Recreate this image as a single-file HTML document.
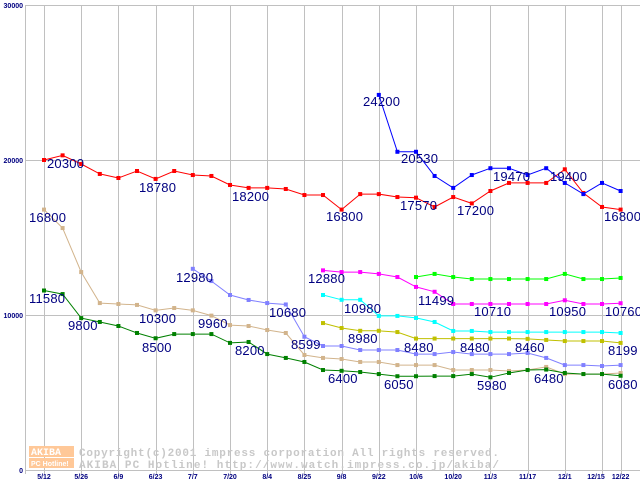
<!DOCTYPE html>
<html><head><meta charset="utf-8"><style>
body{margin:0;background:#fff;}
svg{display:block;}
.lbl{font-family:"Liberation Sans",sans-serif;font-size:13px;fill:#000080;letter-spacing:0.2px;}
.ax{font-family:"Liberation Sans",sans-serif;font-size:7px;font-weight:bold;fill:#000080;}
.wm{font-family:"Liberation Mono",monospace;font-size:11px;font-weight:bold;fill:#c8c8c8;}
</style></head><body>
<svg id="chart" width="640" height="480" viewBox="0 0 640 480" xmlns="http://www.w3.org/2000/svg">
<g id="grid"></g>
<g id="watermark">
  <rect x="29" y="446" width="45" height="11" fill="#ffc898"/>
  <rect x="29" y="458" width="45" height="10" fill="#ffc898"/>
  <text x="31" y="455" font-family="Liberation Mono,monospace" font-size="10" font-weight="bold" fill="#fff">AKIBA</text>
  <text x="31" y="466" font-family="Liberation Sans,sans-serif" font-size="7" font-weight="bold" fill="#fff">PC Hotline!</text>
  <text class="wm" x="79" y="456" textLength="420">Copyright(c)2001 impress corporation All rights reserved.</text>
  <text class="wm" x="79" y="468" textLength="420">AKIBA PC Hotline!  http://www.watch.impress.co.jp/akiba/</text>
</g>
<g id="series"></g>
<g id="labels"></g>
</svg>
<script>
const yTicks = [0, 10000, 20000, 30000];
const xTickLabels = ["5/12","5/26","6/9","6/23","7/7","7/20","8/4","8/25","9/8","9/22","10/6","10/20","11/3","11/17","12/1","12/15","12/22"];
const xTickIndex = [0,2,4,6,8,10,12,14,16,18,20,22,24,26,28,30,31];
const N = 32;
const _ = null;
const redValues = [20000,20300,19740,19100,18840,19290,18780,19290,19030,18970,18390,18200,18200,18130,17740,17740,16800,17800,17800,17610,17570,16970,17610,17200,18000,18520,18520,18520,19400,17870,16970,16800];
const blueValues = [_,_,_,_,_,_,_,_,_,_,_,_,_,_,_,_,_,_,24200,20530,20530,18970,18200,19030,19470,19470,19030,19470,18520,17800,18520,18000];
const tanValues = [16800,15610,12770,10770,10710,10650,10300,10450,10300,9960,9350,9290,9030,8840,7420,7230,7160,6970,6970,6770,6770,6770,6450,6450,6450,6390,6450,6650,6190,6190,6190,6260];
const greenValues = [11580,11350,9800,9550,9290,8840,8500,8770,8770,8770,8200,8260,7480,7230,6970,6450,6400,6320,6190,6050,6050,6060,6060,6190,5980,6260,6450,6480,6260,6190,6190,6080];
const periwinkleValues = [_,_,_,_,_,_,_,_,12980,12190,11290,10970,10770,10680,8599,8000,8000,7740,7740,7740,7480,7480,7610,7480,7480,7480,7550,7230,6770,6770,6710,6770];
const magentaValues = [_,_,_,_,_,_,_,_,_,_,_,_,_,_,_,12880,12770,12770,12650,12450,11810,11499,10710,10710,10710,10710,10710,10710,10950,10710,10710,10760];
const limeValues = [_,_,_,_,_,_,_,_,_,_,_,_,_,_,_,_,_,_,_,_,12450,12650,12450,12320,12320,12320,12320,12320,12650,12320,12320,12390];
const cyanValues = [_,_,_,_,_,_,_,_,_,_,_,_,_,_,_,11290,10980,10980,9940,9940,9810,9550,8970,8970,8900,8900,8900,8900,8900,8900,8900,8840];
const oliveValues = [_,_,_,_,_,_,_,_,_,_,_,_,_,_,_,9480,9160,8980,8980,8900,8480,8480,8480,8480,8480,8480,8460,8390,8320,8320,8320,8199];
const labelTexts = ["20300","18780","18200","16800","17570","17200","16800","24200","20530","19470","19400","16800","11580","9800","10300","8500","9960","8200","12980","10680","8599","12880","10980","11499","10710","10950","10760","8980","8480","8480","8460","8199","6400","6050","5980","6480","6080"];

const x = i => 44 + 18.6 * i;
const y = v => 470 - v * 0.0155;
const NS = "http://www.w3.org/2000/svg";
function mk(tag, parent){ const e = document.createElementNS(NS, tag); parent.appendChild(e); return e; }

const grid = document.getElementById('grid');
yTicks.forEach(t => {
  const l = mk('line', grid);
  
  
  l.setAttribute('x1', 25); l.setAttribute('x2', 640);
  l.setAttribute('y1', y(t) + 0.5); l.setAttribute('y2', y(t) + 0.5);
  l.setAttribute('stroke', '#c0c0c0');
  const tx = mk('text', grid);
  
  
  tx.setAttribute('class', 'ax');
  tx.setAttribute('x', 23); tx.setAttribute('y', y(t) + 3);
  tx.setAttribute('text-anchor', 'end');
  tx.textContent = t;
});
const axl = mk('line', grid);


axl.setAttribute('x1', 25.5); axl.setAttribute('x2', 25.5);
axl.setAttribute('y1', y(30000)); axl.setAttribute('y2', 474);
axl.setAttribute('stroke', '#c0c0c0');
xTickIndex.forEach((ix, k) => {
  const l = mk('line', grid);
  
  
  const xx = Math.round(x(ix)) + 0.5;
  l.setAttribute('x1', xx); l.setAttribute('x2', xx);
  l.setAttribute('y1', y(30000)); l.setAttribute('y2', 474);
  l.setAttribute('stroke', '#c0c0c0');
  const tx = mk('text', grid);
  
  
  tx.setAttribute('class', 'ax');
  tx.setAttribute('font-weight', 'normal');
  tx.setAttribute('font-size', '8');
  tx.setAttribute('x', x(ix) + (k === 15 ? -6 : 0)); tx.setAttribute('y', 479);
  tx.setAttribute('text-anchor', 'middle');
  tx.textContent = xTickLabels[k];
});

const sg = document.getElementById('series');
const seriesList = [
  ['red-series', redValues, '#ff0000'],
  ['blue-series', blueValues, '#0000ff'],
  ['tan-series', tanValues, '#d2b48c'],
  ['green-series', greenValues, '#008000'],
  ['periwinkle-series', periwinkleValues, '#8080ff'],
  ['magenta-series', magentaValues, '#ff00ff'],
  ['lime-series', limeValues, '#00ff00'],
  ['cyan-series', cyanValues, '#00ffff'],
  ['olive-series', oliveValues, '#c0c000']
];
seriesList.forEach(([name, vals, col]) => {
  const g = mk('g', sg);
  
  
  let pts = [];
  vals.forEach((v, i) => { if (v !== null) pts.push(x(i).toFixed(1) + ',' + y(v).toFixed(1)); });
  const pl = mk('polyline', g);
  
  
  pl.setAttribute('points', pts.join(' '));
  pl.setAttribute('fill', 'none');
  pl.setAttribute('stroke', col);
  pl.setAttribute('stroke-width', '1');
  vals.forEach((v, i) => {
    if (v === null) return;
    const r = mk('rect', g);
    
    
    r.setAttribute('x', x(i) - 2); r.setAttribute('y', y(v) - 2);
    r.setAttribute('width', 4); r.setAttribute('height', 4);
    r.setAttribute('fill', col);
  });
});

const labelPos = [[47,168],[139,192],[232,201],[326,221],[400,210],[457,215],[604,221],[363,106],[401,163],[493,181],[550,181],[29,222],[29,303],[68,330],[139,323],[142,352],[198,328],[235,355],[176,282],[269,317],[291,349],[308,283],[344,313],[418,305],[474,316],[549,316],[605,316],[348,343],[404,352],[460,352],[515,352],[608,355],[328,383],[384,389],[477,390],[534,383],[608,389]];
const lg = document.getElementById('labels');
labelTexts.forEach((t, k) => {
  const tx = mk('text', lg);
  
  
  tx.setAttribute('class', 'lbl');
  tx.setAttribute('x', labelPos[k][0]); tx.setAttribute('y', labelPos[k][1]);
  tx.textContent = t;
});
</script>
</body></html>
